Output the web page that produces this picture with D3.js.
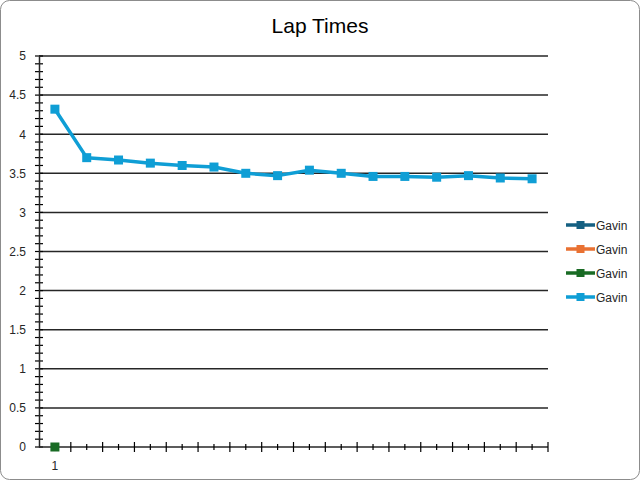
<!DOCTYPE html>
<html>
<head>
<meta charset="utf-8">
<script src="https://cdn.jsdelivr.net/npm/d3@7"></script>
<style>
  html, body { margin: 0; padding: 0; background: #fff; }
  svg { display: block; }
</style>
</head>
<body>
<svg id="chart" width="641" height="481"></svg>
<script>
const title = "Lap Times";
const categories = ["1", "", "", "", "", "", "", "", "", "", "", "", "", "", "", ""];
const seriesNames = ["Gavin", "Gavin", "Gavin", "Gavin"];
const seriesColors = ["#156082", "#E97132", "#196B24", "#0F9ED5"];
const series1 = [];
const series2 = [];
const series3 = [0];
const series4 = [4.32, 3.70, 3.67, 3.63, 3.60, 3.58, 3.50, 3.47, 3.54, 3.50, 3.46, 3.46, 3.45, 3.47, 3.44, 3.43];
const yTicks = [0, 0.5, 1, 1.5, 2, 2.5, 3, 3.5, 4, 4.5, 5];
const yMinorTicks = d3.range(0, 51).map(d => d / 10);

const allSeries = [series1, series2, series3, series4];

const svg = d3.select("#chart");
const W = 641, H = 481;
const m = { left: 39, right: 93, top: 56, bottom: 34 };
const iw = W - m.left - m.right;
const ih = H - m.top - m.bottom;

// chart border
svg.append("rect")
  .attr("x", 0.5).attr("y", 0.5)
  .attr("width", W - 2).attr("height", H - 2)
  .attr("rx", 9).attr("ry", 9)
  .attr("fill", "#fff").attr("stroke", "#8c8c8c").attr("stroke-width", 1);

svg.append("text")
  .attr("x", 320).attr("y", 33)
  .attr("text-anchor", "middle")
  .attr("font-family", "Liberation Sans, Arial, sans-serif")
  .attr("font-size", 21)
  .attr("fill", "#000")
  .text(title);

const g = svg.append("g").attr("transform", `translate(${m.left},${m.top})`);

const x = d3.scaleBand().domain(d3.range(categories.length)).range([0, iw]).padding(0);
const y = d3.scaleLinear().domain([0, 5]).range([ih, 0]);

// gridlines
g.append("g").selectAll("line").data(yTicks.filter(d => d > 0)).join("line")
  .attr("x1", 0).attr("x2", iw)
  .attr("y1", d => y(d)).attr("y2", d => y(d))
  .attr("stroke", "#262626").attr("stroke-width", 1.5);

// y minor ticks (cross)
g.append("g").selectAll("line").data(yMinorTicks).join("line")
  .attr("x1", -4).attr("x2", 4)
  .attr("y1", d => y(d)).attr("y2", d => y(d))
  .attr("stroke", "#000").attr("stroke-width", 1.2);

// y axis
const yAxis = d3.axisLeft(y).tickValues(yTicks).tickSize(0).tickPadding(13).tickFormat(d3.format("~g"));
const yg = g.append("g").call(yAxis);
yg.select(".domain").attr("stroke", "#262626").attr("stroke-width", 1.5);
yg.selectAll("text").attr("font-family", "Liberation Sans, Arial, sans-serif").attr("font-size", 12).attr("fill", "#262626");

// x axis
const xg = g.append("g").attr("transform", `translate(0,${ih})`);
xg.append("line").attr("x1", 0).attr("x2", iw).attr("y1", 0).attr("y2", 0)
  .attr("stroke", "#262626").attr("stroke-width", 1.5);
// major ticks at boundaries
const bounds = d3.range(categories.length + 1).map(i => i * x.bandwidth());
xg.selectAll("line.maj").data(bounds.slice(1)).join("line").attr("class", "maj")
  .attr("x1", d => d).attr("x2", d => d).attr("y1", -5).attr("y2", 5)
  .attr("stroke", "#000").attr("stroke-width", 1.2);
// minor ticks at centers
xg.selectAll("line.min").data(d3.range(categories.length)).join("line").attr("class", "min")
  .attr("x1", d => x(d) + x.bandwidth() / 2).attr("x2", d => x(d) + x.bandwidth() / 2)
  .attr("y1", -3).attr("y2", 3)
  .attr("stroke", "#000").attr("stroke-width", 1.2);
xg.selectAll("text").data(categories).join("text")
  .attr("x", (d, i) => x(i) + x.bandwidth() / 2)
  .attr("y", 23)
  .attr("text-anchor", "middle")
  .attr("font-family", "Liberation Sans, Arial, sans-serif").attr("font-size", 12).attr("fill", "#262626")
  .text(d => d);

// series
const line = d3.line().x((d, i) => x(i) + x.bandwidth() / 2).y(d => y(d));
allSeries.forEach((s, k) => {
  if (!s.length) return;
  g.append("path").datum(s).attr("d", line)
    .attr("fill", "none").attr("stroke", seriesColors[k]).attr("stroke-width", 3.5)
    .attr("stroke-linejoin", "round");
  g.append("g").selectAll("rect").data(s).join("rect")
    .attr("x", (d, i) => x(i) + x.bandwidth() / 2 - 4.5)
    .attr("y", d => y(d) - 4.5)
    .attr("width", 9).attr("height", 9)
    .attr("fill", seriesColors[k]);
});

// legend
const lg = svg.append("g").attr("transform", "translate(566,225)");
seriesNames.forEach((name, k) => {
  const row = lg.append("g").attr("transform", `translate(0,${k * 24})`);
  row.append("line").attr("x1", 0).attr("x2", 29).attr("y1", 0).attr("y2", 0)
    .attr("stroke", seriesColors[k]).attr("stroke-width", 3.5);
  row.append("rect").attr("x", 10.5).attr("y", -4).attr("width", 8).attr("height", 8)
    .attr("fill", seriesColors[k]);
  row.append("text").attr("x", 30).attr("y", 4.5)
    .attr("font-family", "Liberation Sans, Arial, sans-serif").attr("font-size", 12).attr("fill", "#262626")
    .text(name);
});
</script>
</body>
</html>
